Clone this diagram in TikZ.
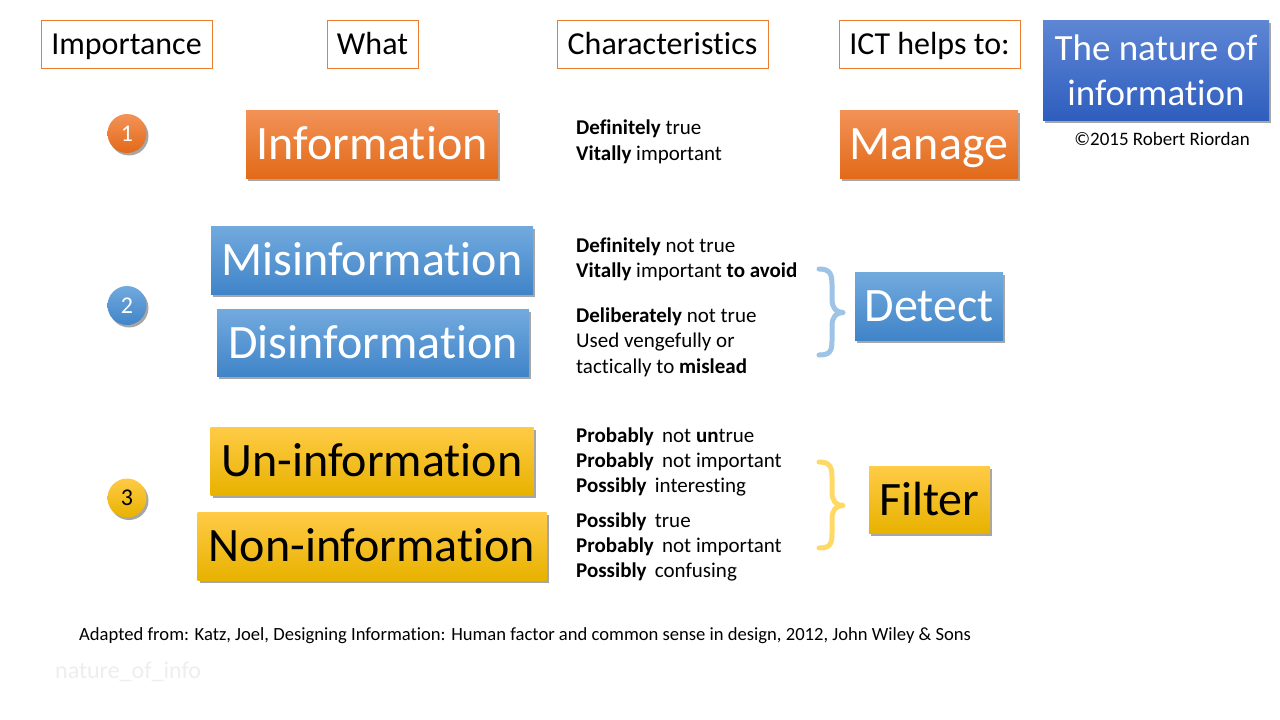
\documentclass[tikz,border=0pt]{standalone}
\usepackage{fontspec}
\setmainfont{Carlito}[Ligatures=NoCommon, RawFeature={-calt}]
\usetikzlibrary{shadows}

\definecolor{hdrorange}{RGB}{237,125,49}
\definecolor{orangetop}{RGB}{243,146,88}
\definecolor{orangebot}{RGB}{226,106,24}
\definecolor{bluetop}{RGB}{114,170,222}
\definecolor{bluebot}{RGB}{64,132,200}
\definecolor{yellowtop}{RGB}{255,203,70}
\definecolor{yellowbot}{RGB}{232,178,0}
\definecolor{titletop}{RGB}{94,134,212}
\definecolor{titlebot}{RGB}{46,94,190}
\definecolor{bracebluec}{RGB}{157,195,230}
\definecolor{braceyellowc}{RGB}{255,217,102}
\definecolor{faintgray}{RGB}{238,238,238}

\tikzset{
  hdr/.style={draw=hdrorange, line width=0.9pt, fill=white, inner sep=0pt,
    text height=21pt, text depth=0pt, font=\fontsize{32}{38}\selectfont},
  boxshadow/.style={drop shadow={shadow xshift=2pt, shadow yshift=-2.5pt,
    opacity=0.35, fill=black}},
  bigbox/.style={boxshadow, inner sep=0pt, text height=31pt, text depth=0pt,
    font=\fontsize{48}{56}\selectfont},
  orangefill/.style={top color=orangetop, bottom color=orangebot, text=white},
  bluefill/.style={top color=bluetop, bottom color=bluebot, text=white},
  yellowfill/.style={top color=yellowtop, bottom color=yellowbot, text=black},
  rankdot/.style={circle, boxshadow, minimum size=39pt, inner sep=0pt,
    text height=15pt, text depth=0pt, font=\fontsize{24}{28}\selectfont},
  charline/.style={anchor=base west, inner sep=0pt, font=\fontsize{21}{25}\selectfont},
  curly/.style={line width=5pt, line cap=round, line join=round},
}

\begin{document}
\begin{tikzpicture}[x=1pt,y=-1pt]
\useasboundingbox[fill=white] (0,0) rectangle (1280,720);

% column headers
\node[hdr, minimum width=171pt, minimum height=48pt] (hImp) at (126.5,44) {Importance};
\node[hdr, minimum width=91pt, minimum height=48pt] (hWhat) at (372.5,44) {What};
\node[hdr, minimum width=211pt, minimum height=48pt] (hChar) at (662.5,44) {Characteristics};
\node[hdr, minimum width=181pt, minimum height=48pt] (hIct) at (929.5,44) {ICT helps to:};

% title block
\node[boxshadow, top color=titletop, bottom color=titlebot, text=white,
  minimum width=226pt, minimum height=100pt, inner sep=0pt, align=center,
  font=\fontsize{37}{45}\selectfont] (title) at (1156,70) {The nature of\\information};
\node[font=\fontsize{19}{23}\selectfont, inner sep=0pt] (copy) at (1162,139) {©2015 Robert Riordan};

% importance markers
\node[rankdot, top color=orangetop, bottom color=orangebot, text=white] (r1) at (127,133.5) {1};
\node[rankdot, top color=bluetop, bottom color=bluebot, text=white] (r2) at (127,305.5) {2};
\node[rankdot, top color=yellowtop, bottom color=yellowbot, text=black] (r3) at (127,498) {3};

% kinds of information
\node[bigbox, orangefill, minimum width=252pt, minimum height=68pt] (info) at (372,144) {Information};
\node[bigbox, bluefill, minimum width=322pt, minimum height=68pt] (misinfo) at (372,260) {Misinformation};
\node[bigbox, bluefill, minimum width=312pt, minimum height=67pt] (disinfo) at (373,343) {Disinformation};
\node[bigbox, yellowfill, minimum width=323pt, minimum height=68pt] (uninfo) at (372,461) {Un-information};
\node[bigbox, yellowfill, minimum width=349pt, minimum height=68pt] (noninfo) at (372,546) {Non-information};

% what ICT does
\node[bigbox, orangefill, minimum width=178pt, minimum height=68pt] (manage) at (929,144) {Manage};
\node[bigbox, bluefill, minimum width=148pt, minimum height=68pt] (detect) at (929,306) {Detect};
\node[bigbox, yellowfill, minimum width=121pt, minimum height=67pt] (filter) at (929.5,499.5) {Filter};

% characteristics
\node[charline] (c1a) at (576,134.5) {\textbf{Definitely} true};
\node[charline] (c1b) at (576,160) {\textbf{Vitally} important};

\node[charline] (c2a) at (576,252) {\textbf{Definitely} not true};
\node[charline] (c2b) at (576,277.5) {\textbf{Vitally} important \textbf{to avoid}};
\node[charline] (c2c) at (576,322) {\textbf{Deliberately} not true};
\node[charline] (c2d) at (576,347.5) {Used vengefully or};
\node[charline] (c2e) at (576,373) {tactically to \textbf{mislead}};

\node[charline] (c3a) at (576,442.5) {\textbf{Probably}\, not \textbf{un}true};
\node[charline] (c3b) at (576,467.5) {\textbf{Probably}\, not important};
\node[charline] (c3c) at (576,492.5) {\textbf{Possibly}\, interesting};
\node[charline] (c3d) at (576,527.5) {\textbf{Possibly}\, true};
\node[charline] (c3e) at (576,552.5) {\textbf{Probably}\, not important};
\node[charline] (c3f) at (576,577.5) {\textbf{Possibly}\, confusing};

% braces
\draw[curly, bracebluec] (819,269) .. controls (829,269) and (832,273) .. (832,284)
  -- (832,299) .. controls (832,308) and (836,312.5) .. (843,312.5)
  .. controls (836,312.5) and (832,317) .. (832,326)
  -- (832,341) .. controls (832,352) and (829,355) .. (819,355);
\draw[curly, braceyellowc] (819,462) .. controls (829,462) and (832,466) .. (832,477)
  -- (832,492) .. controls (832,501) and (836,505.5) .. (843,505.5)
  .. controls (836,505.5) and (832,510) .. (832,519)
  -- (832,534) .. controls (832,545) and (829,548) .. (819,548);

% footer
\node[anchor=base west, inner sep=0pt, font=\fontsize{18.6}{22}\selectfont] (src) at (79,640)
  {Adapted from: Katz, Joel, Designing Information: Human factor and common sense in design, 2012, John Wiley \& Sons};
\node[anchor=base west, inner sep=0pt, text=faintgray, font=\fontsize{24}{28}\selectfont] (fname) at (55,678) {nature\_of\_info};
\end{tikzpicture}
\end{document}
